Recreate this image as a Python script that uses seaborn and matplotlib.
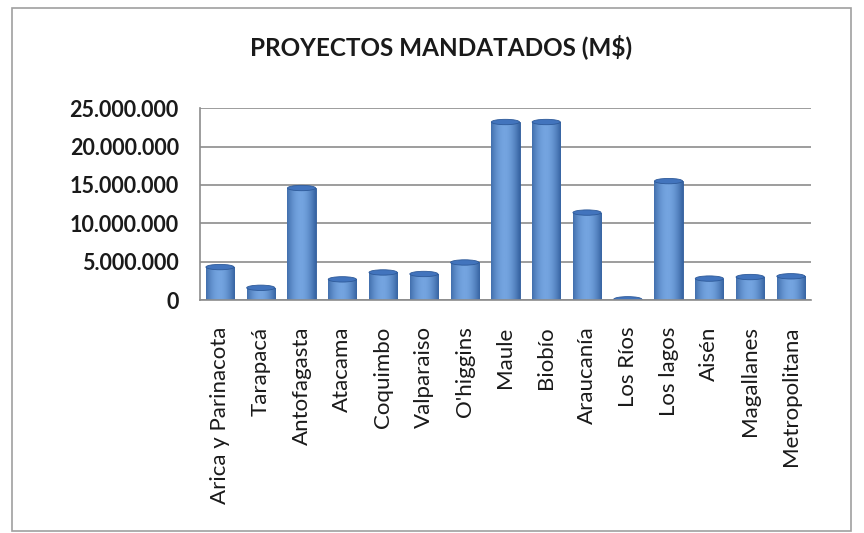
import numpy as np
import matplotlib
matplotlib.use("Agg")
import matplotlib.pyplot as plt
from matplotlib.patches import Ellipse, Rectangle
from matplotlib.ticker import FuncFormatter
import seaborn as sns

regiones = ["Arica y Parinacota", "Tarapacá", "Antofagasta", "Atacama", "Coquimbo",
            "Valparaiso", "O'higgins", "Maule", "Biobío", "Araucanía", "Los Ríos",
            "Los lagos", "Aisén", "Magallanes", "Metropolitana"]
montos = [4300000, 1600000, 14600000, 2700000, 3600000, 3400000, 4900000,
          23200000, 23200000, 11400000, 100000, 15500000, 2800000, 3000000, 3100000]

sns.set_theme(style="white")
plt.rcParams["font.family"] = ["Lato", "DejaVu Sans"]

fig = plt.figure(figsize=(8.64, 5.33), dpi=100)
ax = fig.add_axes([0.231, 0.437, 0.708, 0.36])

blue = "#4A7CC2"
sns.barplot(x=regiones, y=montos, color=blue, width=0.69, saturation=1,
            edgecolor="#2E5A99", linewidth=0.6, ax=ax)

# cylinder shading + top caps
grad = np.linspace(0, 1, 64)
shade = 0.55 + 0.45 * np.sin(np.pi * (grad * 0.85 + 0.1))
cmap = matplotlib.colors.LinearSegmentedColormap.from_list("cyl", ["#24508F", "#74A4E0"])
for p in list(ax.patches):
    x0, w, h = p.get_x(), p.get_width(), p.get_height()
    im = ax.imshow(shade[np.newaxis, :], cmap=cmap, vmin=0.5, vmax=1.0, aspect="auto",
                   extent=[x0, x0 + w, 0, h], zorder=p.get_zorder() + 0.1)
    im.set_clip_path(p)
    ax.add_patch(Ellipse((x0 + w / 2, h), w, 700000, facecolor="#4274BD",
                         edgecolor="#2E5A99", linewidth=0.6, zorder=p.get_zorder() + 0.2))
    ax.add_patch(Ellipse((x0 + w / 2, 0), w, 700000, facecolor="#2E5A99",
                         edgecolor="none", zorder=p.get_zorder() - 0.1))

ax.set_xlim(-0.5, len(regiones) - 0.5)
ax.set_ylim(0, 25000000)
ax.set_yticks(range(0, 25000001, 5000000))
ax.yaxis.set_major_formatter(FuncFormatter(lambda v, _: f"{int(v):,}".replace(",", ".")))
ax.yaxis.grid(True, color="#8C8C8C", linewidth=1.2)
ax.set_axisbelow(True)
for s in ["top", "right"]:
    ax.spines[s].set_visible(False)
for s in ["left", "bottom"]:
    ax.spines[s].set_color("#8C8C8C")
    ax.spines[s].set_linewidth(1.2)

ax.tick_params(axis="y", labelsize=15.5, pad=15, length=0, labelcolor="#1A1A1A")
for t in ax.get_yticklabels():
    t.set_fontweight("bold")
ax.tick_params(axis="x", labelsize=16, rotation=90, length=0, pad=19, labelcolor="#1A1A1A")
ax.set_xlabel("")
ax.set_ylabel("")

fig.text(0.51, 0.912, "PROYECTOS MANDATADOS (M$)", ha="center", va="center",
         fontsize=17.5, fontweight="bold", color="#1A1A1A")

fig.patches.append(Rectangle((0.014, 0.004), 0.971, 0.981, transform=fig.transFigure,
                             fill=False, edgecolor="#A0A0A0", linewidth=1.2))

fig.savefig("out.png", dpi=100)
